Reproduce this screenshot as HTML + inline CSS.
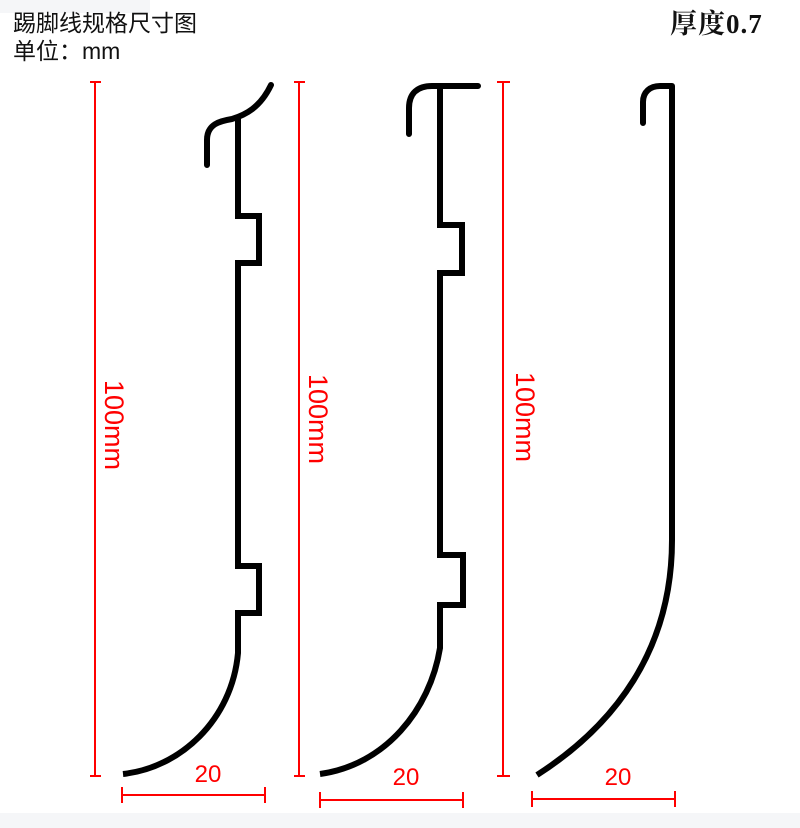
<!DOCTYPE html>
<html><head><meta charset="utf-8"><style>
body{margin:0;width:800px;height:828px;background:#fff;position:relative;overflow:hidden;font-family:"Liberation Sans","Noto Sans CJK SC",sans-serif}
.band{position:absolute;left:0;width:800px;background:#f5f6f8}
.t{position:absolute;font-size:23px;color:#111;line-height:1}
</style></head><body>
<div class="band" style="top:0;height:13px;width:150px"></div>
<div class="band" style="top:813px;height:15px"></div>
<div class="t" style="left:13px;top:12px">踢脚线规格尺寸图</div>
<div class="t" style="left:13px;top:40px">单位：mm</div>
<div class="t" style="left:670px;top:11px;font-family:'Liberation Serif','Noto Serif CJK SC',serif;font-weight:bold;font-size:27px;letter-spacing:1px">厚度0.7</div>
<svg width="800" height="828" style="position:absolute;left:0;top:0">
<g stroke="#f00" stroke-width="2" fill="none">
<path d="M95 82V776M90 82H101M90 776H101"/>
<path d="M299 82V776M294 82H305M294 776H305"/>
<path d="M503 82V776M497 82H510M497 776H510"/>
<path d="M122 795H265M122 787V803M265 787V803"/>
<path d="M320 800H463M320 792V808M463 792V808"/>
<path d="M532 799H675M532 791V807M675 791V807"/>
</g>
<g fill="#f00" font-size="24" font-family="Liberation Sans,sans-serif">
<text x="208" y="782" text-anchor="middle">20</text>
<text x="406" y="785" text-anchor="middle">20</text>
<text x="618" y="785" text-anchor="middle">20</text>
<g font-size="27">
<text transform="translate(105,380) rotate(90)">100mm</text>
<text transform="translate(309,374) rotate(90)">100mm</text>
<text transform="translate(516,372) rotate(90)">100mm</text>
</g>
</g>
<g stroke="#000" stroke-width="6" fill="none" stroke-linecap="round">
<path d="M271 85C260 108 245 115 232 119C220 121 207 124 207 140V165" />
<path d="M238 118V216H259V263H238V566H259V613H238V653C232 720 180 768 123 774" stroke-linecap="butt"/>
<path d="M478 86H432C418 86 409 93 409 108V134"/>
<path d="M440 86V225H462V273H440V555H463V605H440V648C430 710 385 765 320 774" stroke-linecap="butt"/>
<path d="M672 86H660C650 86 643 92 643 102V123"/>
<path d="M672 86V540C672 650 615 725 537 775" stroke-linecap="butt"/>
</g>
</svg>
</body></html>
